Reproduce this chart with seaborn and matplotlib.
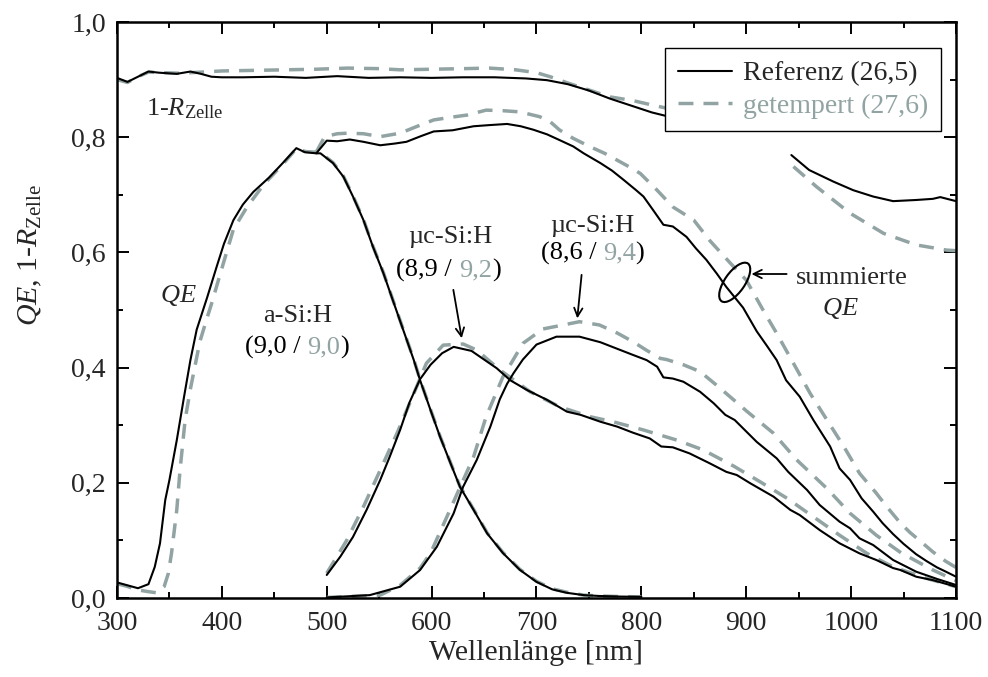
import matplotlib
matplotlib.use("Agg")
import matplotlib.pyplot as plt
import numpy as np
import pandas as pd
import seaborn as sns
from matplotlib.lines import Line2D
from matplotlib.patches import Ellipse
from matplotlib.offsetbox import TextArea, HPacker, AnnotationBbox
from matplotlib.transforms import ScaledTranslation

# ---------------------------------------------------------------------------
# Measured spectra (wavelength in nm, values as fractions)
# ---------------------------------------------------------------------------
# 1 - R of the cell; the curve is interrupted to the right of the legend
r_ref_nm_a = [300, 310, 320, 330, 340, 357, 370, 380, 390, 400, 420, 450, 480,
              510, 540, 570, 600, 630, 660, 690, 710, 730, 750, 770, 790, 810, 830]
r_ref_a = [0.903, 0.896, 0.905, 0.914, 0.912, 0.910, 0.914, 0.910, 0.905, 0.904,
           0.904, 0.905, 0.903, 0.906, 0.903, 0.904, 0.903, 0.904, 0.904, 0.902,
           0.899, 0.892, 0.881, 0.867, 0.855, 0.843, 0.834]
r_ref_nm_b = [943, 960, 983, 1002, 1021, 1040, 1062, 1078, 1085, 1100]
r_ref_b = [0.769, 0.743, 0.723, 0.708, 0.697, 0.689, 0.691, 0.693, 0.696, 0.689]

r_ann_nm_a = [300, 310, 320, 330, 345, 360, 380, 400, 430, 460, 490, 520, 550,
              570, 600, 630, 655, 680, 700, 713, 730, 745, 770, 792, 810, 830]
r_ann_a = [0.900, 0.895, 0.905, 0.913, 0.912, 0.911, 0.913, 0.915, 0.916, 0.917,
           0.918, 0.920, 0.919, 0.917, 0.918, 0.919, 0.920, 0.917, 0.912, 0.905,
           0.894, 0.885, 0.870, 0.8635, 0.856, 0.848]
r_ann_nm_b = [945, 967, 999, 1031, 1062, 1091, 1100]
r_ann_b = [0.749, 0.714, 0.668, 0.633, 0.613, 0.604, 0.603]

# a-Si:H top cell
asi_ref_nm = [300, 310, 320, 330, 336, 341, 346, 350, 357, 364, 370, 376, 386,
              395, 402, 411, 420, 430, 445, 458, 471, 479, 490, 494, 506, 516,
              525, 535, 544, 554, 563, 573, 583, 589, 599, 608, 618, 627, 640,
              653, 668, 684, 700, 715, 729, 745, 760, 780, 800]
asi_ref = [0.027, 0.022, 0.017, 0.024, 0.054, 0.095, 0.170, 0.205, 0.274, 0.350,
           0.413, 0.466, 0.522, 0.575, 0.615, 0.656, 0.683, 0.705, 0.730, 0.755,
           0.781, 0.774, 0.772, 0.772, 0.755, 0.731, 0.697, 0.656, 0.610, 0.564,
           0.517, 0.465, 0.413, 0.378, 0.326, 0.280, 0.234, 0.193, 0.153, 0.112,
           0.078, 0.049, 0.028, 0.015, 0.009, 0.005, 0.0035, 0.0025, 0.002]
asi_ann_nm = [300, 310, 320, 330, 338, 345, 349, 352, 357, 360, 365, 370, 379,
              386, 390, 398, 411, 424, 440, 458, 471, 480, 490, 494, 506, 516,
              525, 535, 544, 554, 563, 573, 583, 589, 599, 608, 618, 627, 640,
              653, 668, 684, 700, 715, 729, 745, 760, 780, 800]
asi_ann = [0.025, 0.020, 0.014, 0.011, 0.009, 0.020, 0.043, 0.078, 0.153, 0.220,
           0.310, 0.363, 0.445, 0.487, 0.510, 0.560, 0.640, 0.679, 0.718, 0.753,
           0.780, 0.775, 0.774, 0.773, 0.756, 0.732, 0.698, 0.657, 0.611, 0.565,
           0.518, 0.466, 0.414, 0.379, 0.327, 0.281, 0.235, 0.194, 0.154, 0.113,
           0.079, 0.050, 0.029, 0.016, 0.010, 0.005, 0.0035, 0.0025, 0.002]

# first muc-Si:H cell
uc1_ref_nm = [500, 513, 525, 538, 551, 560, 570, 579, 589, 599, 610, 621, 638,
              646, 662, 675, 691, 710, 729, 742, 761, 777, 792, 808, 819, 830,
              846, 865, 881, 891, 904, 926, 942, 951, 970, 989, 1008, 1024, 1040,
              1047, 1062, 1078, 1100]
uc1_ref = [0.040, 0.072, 0.106, 0.153, 0.205, 0.245, 0.292, 0.340, 0.380, 0.405,
           0.425, 0.436, 0.429, 0.419, 0.399, 0.378, 0.361, 0.344, 0.3235, 0.318,
           0.306, 0.2975, 0.287, 0.277, 0.263, 0.2616, 0.251, 0.234, 0.219,
           0.2135, 0.199, 0.176, 0.153, 0.144, 0.118, 0.095, 0.0775, 0.066,
           0.052, 0.0486, 0.037, 0.031, 0.0196]
uc1_ann_nm = [500, 519, 535, 551, 567, 583, 595, 611, 630, 643, 665, 694, 722,
              751, 773, 802, 834, 859, 888, 913, 939, 964, 989, 1015, 1040, 1072,
              1100]
uc1_ann = [0.043, 0.100, 0.1585, 0.222, 0.286, 0.355, 0.4075, 0.439, 0.441,
           0.4305, 0.396, 0.358, 0.332, 0.3148, 0.306, 0.2917, 0.274, 0.257,
           0.229, 0.202, 0.173, 0.141, 0.109, 0.0775, 0.054, 0.034, 0.0196]

# second muc-Si:H cell
uc2_ref_nm = [500, 541, 570, 589, 605, 621, 630, 643, 656, 665, 672, 678, 687,
              700, 719, 741, 761, 780, 792, 805, 815, 821, 830, 840, 856, 869,
              880, 889, 910, 929, 940, 958, 970, 989, 999, 1008, 1021, 1040, 1062,
              1082, 1100]
uc2_ref = [0.001, 0.005, 0.0196, 0.0486, 0.089, 0.147, 0.193, 0.2396, 0.2975,
           0.345, 0.372, 0.390, 0.414, 0.440, 0.4537, 0.4537, 0.444, 0.4305,
           0.422, 0.413, 0.4016, 0.383, 0.381, 0.3755, 0.358, 0.338, 0.318,
           0.309, 0.271, 0.2425, 0.219, 0.1875, 0.1615, 0.1325, 0.121, 0.1036,
           0.092, 0.066, 0.0457, 0.033, 0.0226]
uc2_ann_nm = [500, 551, 570, 589, 599, 618, 640, 652, 668, 675, 687, 706, 741,
              760, 777, 792, 805, 818, 824, 840, 856, 872, 888, 900, 926, 948,
              977, 999, 1024, 1048, 1078, 1100]
uc2_ann = [0.001, 0.005, 0.022, 0.052, 0.078, 0.155, 0.245, 0.315, 0.384, 0.405,
           0.442, 0.467, 0.4797, 0.474, 0.460, 0.445, 0.430, 0.416, 0.414, 0.405,
           0.393, 0.369, 0.344, 0.325, 0.286, 0.240, 0.190, 0.147, 0.109, 0.078,
           0.0486, 0.030]

# summed QE of the stack (starts where the muc cells set in)
sum_ref_nm = [490, 500, 510, 522, 535, 551, 565, 576, 590, 602, 620, 640, 655,
              672, 685, 697, 710, 722, 735, 745, 761, 772, 783, 795, 802, 811,
              821, 830, 843, 852, 862, 872, 881, 889, 897, 910, 920, 929, 938,
              951, 964, 980, 989, 999, 1010, 1021, 1030, 1040, 1050, 1062, 1072,
              1082, 1090, 1100]
sum_ref = [0.772, 0.794, 0.793, 0.796, 0.792, 0.786, 0.789, 0.792, 0.802, 0.810,
           0.812, 0.819, 0.821, 0.823, 0.819, 0.813, 0.805, 0.795, 0.784, 0.772,
           0.755, 0.742, 0.726, 0.708, 0.697, 0.674, 0.648, 0.645, 0.627, 0.607,
           0.587, 0.563, 0.540, 0.522, 0.504, 0.463, 0.437, 0.413, 0.378, 0.3495,
           0.309, 0.263, 0.225, 0.205, 0.173, 0.150, 0.130, 0.111, 0.094, 0.076,
           0.064, 0.053, 0.046, 0.037]
sum_ann_nm = [490, 498, 510, 520, 535, 551, 570, 585, 602, 620, 634, 652, 668,
              684, 703, 713, 722, 735, 751, 765, 777, 790, 799, 815, 830, 850,
              865, 885, 900, 916, 929, 945, 961, 977, 993, 1008, 1024, 1034, 1047,
              1056, 1069, 1078, 1090, 1100]
sum_ann = [0.774, 0.801, 0.806, 0.807, 0.806, 0.801, 0.807, 0.818, 0.830, 0.835,
           0.8385, 0.847, 0.846, 0.844, 0.8356, 0.827, 0.8125, 0.798, 0.7835,
           0.772, 0.760, 0.747, 0.737, 0.708, 0.679, 0.656, 0.621, 0.581, 0.552,
           0.500, 0.4595, 0.4075, 0.355, 0.309, 0.263, 0.2165, 0.182, 0.1585,
           0.130, 0.114, 0.094, 0.080, 0.064, 0.053]

x_ticks = [300, 400, 500, 600, 700, 800, 900, 1000, 1100]
x_tick_labels = ["300", "400", "500", "600", "700", "800", "900", "1000", "1100"]
y_ticks = [0.0, 0.2, 0.4, 0.6, 0.8, 1.0]
y_tick_labels = ["0,0", "0,2", "0,4", "0,6", "0,8", "1,0"]
legend_labels = ["Referenz (26,5)", "getempert (27,6)"]

# ---------------------------------------------------------------------------
sns.set_style("ticks")
plt.rcParams["font.family"] = ["Liberation Serif", "DejaVu Serif"]
plt.rcParams["mathtext.fontset"] = "custom"
plt.rcParams["mathtext.rm"] = "Liberation Serif"
plt.rcParams["mathtext.it"] = "Liberation Serif:italic"
plt.rcParams["mathtext.bf"] = "Liberation Serif:bold"

BLACK = "#000000"
GREY = "#91A3A2"
LW_REF = 1.5
LW_ANN = 2.5
DASH = (0, (4.3, 2.9))

fig = plt.figure(figsize=(9.88, 6.77), dpi=100)
ax = fig.add_axes([0.11842, 0.11669, 0.84919, 0.85081])


def curve(nm, val, annealed, units=None):
    df = pd.DataFrame({"nm": nm, "val": val})
    kw = dict(color=GREY, lw=LW_ANN, linestyle=DASH, zorder=2) if annealed \
        else dict(color=BLACK, lw=LW_REF, zorder=3)
    if units is not None:
        df["seg"] = units
        sns.lineplot(data=df, x="nm", y="val", units="seg", estimator=None,
                     sort=False, ax=ax, legend=False, **kw)
    else:
        sns.lineplot(data=df, x="nm", y="val", estimator=None, sort=False,
                     ax=ax, legend=False, **kw)


# annealed (dashed) first, reference on top
curve(r_ann_nm_a + r_ann_nm_b, r_ann_a + r_ann_b, True,
      [0] * len(r_ann_nm_a) + [1] * len(r_ann_nm_b))
curve(asi_ann_nm, asi_ann, True)
curve(uc1_ann_nm, uc1_ann, True)
curve(uc2_ann_nm, uc2_ann, True)
curve(sum_ann_nm, sum_ann, True)

curve(r_ref_nm_a + r_ref_nm_b, r_ref_a + r_ref_b, False,
      [0] * len(r_ref_nm_a) + [1] * len(r_ref_nm_b))
curve(asi_ref_nm, asi_ref, False)
curve(uc1_ref_nm, uc1_ref, False)
curve(uc2_ref_nm, uc2_ref, False)
curve(sum_ref_nm, sum_ref, False)

# axes, ticks, spines
ax.set_xlim(300, 1100)
ax.set_ylim(0, 1.0)
ax.set_xticks(x_ticks)
ax.set_xticklabels(x_tick_labels)
ax.set_xticks(np.arange(350, 1100, 100), minor=True)
ax.set_yticks(y_ticks)
ax.set_yticklabels(y_tick_labels)
ax.set_yticks(np.arange(0.1, 1.0, 0.2), minor=True)
ax.tick_params(which="both", direction="in", top=True, right=True,
               width=1.4, color=BLACK)
ax.tick_params(which="major", length=8.6, labelsize=20)
ax.tick_params(axis="x", which="major", pad=9)
ax.tick_params(axis="y", which="major", pad=8)
ax.tick_params(which="minor", length=4.3)
for s in ax.spines.values():
    s.set_linewidth(1.8)
    s.set_color(BLACK)

ax.set_xlabel("Wellenlänge [nm]", fontsize=21.5, labelpad=3)
ax.set_ylabel("$QE$, 1-$R_{\\mathrm{Zelle}}$", fontsize=21.5)
ax.yaxis.set_label_coords(-0.087, 0.595)

# legend
handles = [Line2D([], [], color=BLACK, lw=LW_REF),
           Line2D([], [], color=GREY, lw=LW_ANN, linestyle=DASH)]
leg = ax.legend(handles, legend_labels, loc="upper right",
                bbox_to_anchor=(0.9818, 0.9543), borderaxespad=0,
                frameon=True, fancybox=False, framealpha=1, edgecolor=BLACK,
                fontsize=20, handlelength=1.95, handletextpad=0.4,
                borderpad=0.45, labelspacing=0.25)
leg.get_frame().set_linewidth(1.0)
leg.get_texts()[1].set_color(GREY)
leg.set_zorder(10)

# curve labels
FS = 19
ax.text(327.7, 0.837, "1-$R_{\\mathrm{Zelle}}$", fontsize=FS, ha="left",
        va="baseline")
ax.text(358.5, 0.514, "$QE$", fontsize=FS, ha="center", va="baseline")
ax.text(472, 0.480, "a-Si:H", fontsize=FS, ha="center", va="baseline")
ax.text(617.5, 0.617, "µc-Si:H", fontsize=FS, ha="center", va="baseline")
ax.text(753.4, 0.636, "µc-Si:H", fontsize=FS, ha="center", va="baseline")
ax.text(1000.5, 0.546, "summierte", fontsize=FS, ha="center", va="baseline")
ax.text(989.4, 0.491, "$QE$", fontsize=FS, ha="center", va="baseline")


def efficiency_pair(x, y, ref, ann):
    """'(ref / ann)' with the annealed value in grey."""
    space = 0.25 * FS
    a = TextArea("(" + ref + " /", textprops=dict(color=BLACK, fontsize=FS))
    b = TextArea(ann, textprops=dict(color=GREY, fontsize=FS))
    c = TextArea(")", textprops=dict(color=BLACK, fontsize=FS))
    tail = HPacker(children=[b, c], sep=0, pad=0, align="baseline")
    box = HPacker(children=[a, tail], sep=space, pad=0, align="baseline")
    ab = AnnotationBbox(box, (x, y), xycoords="data", frameon=False,
                        box_alignment=(0.5, 0.5), pad=0)
    ax.add_artist(ab)


efficiency_pair(471.3, 0.435, "9,0", "9,0")
efficiency_pair(616.0, 0.569, "8,9", "9,2")
efficiency_pair(753.4, 0.598, "8,6", "9,4")

arrow = dict(arrowstyle="->,head_length=0.6,head_width=0.3", lw=1.3,
             color=BLACK, shrinkA=0, shrinkB=0)
ax.annotate("", xy=(628.7, 0.451), xytext=(620.7, 0.535), arrowprops=arrow)
ax.annotate("", xy=(738.9, 0.4855), xytext=(743.0, 0.561), arrowprops=arrow)
ax.annotate("", xy=(905.0, 0.5625), xytext=(938.5, 0.5625), arrowprops=arrow)

# ellipse marking the summed QE curves (sized in inches, placed in data coords)
trans = fig.dpi_scale_trans + ScaledTranslation(889.0, 0.548, ax.transData)
ax.add_artist(Ellipse((0, 0), 0.46, 0.20, angle=55, transform=trans,
                      fill=False, lw=1.5, edgecolor=BLACK, zorder=6))

fig.savefig("out.png", dpi=100)
